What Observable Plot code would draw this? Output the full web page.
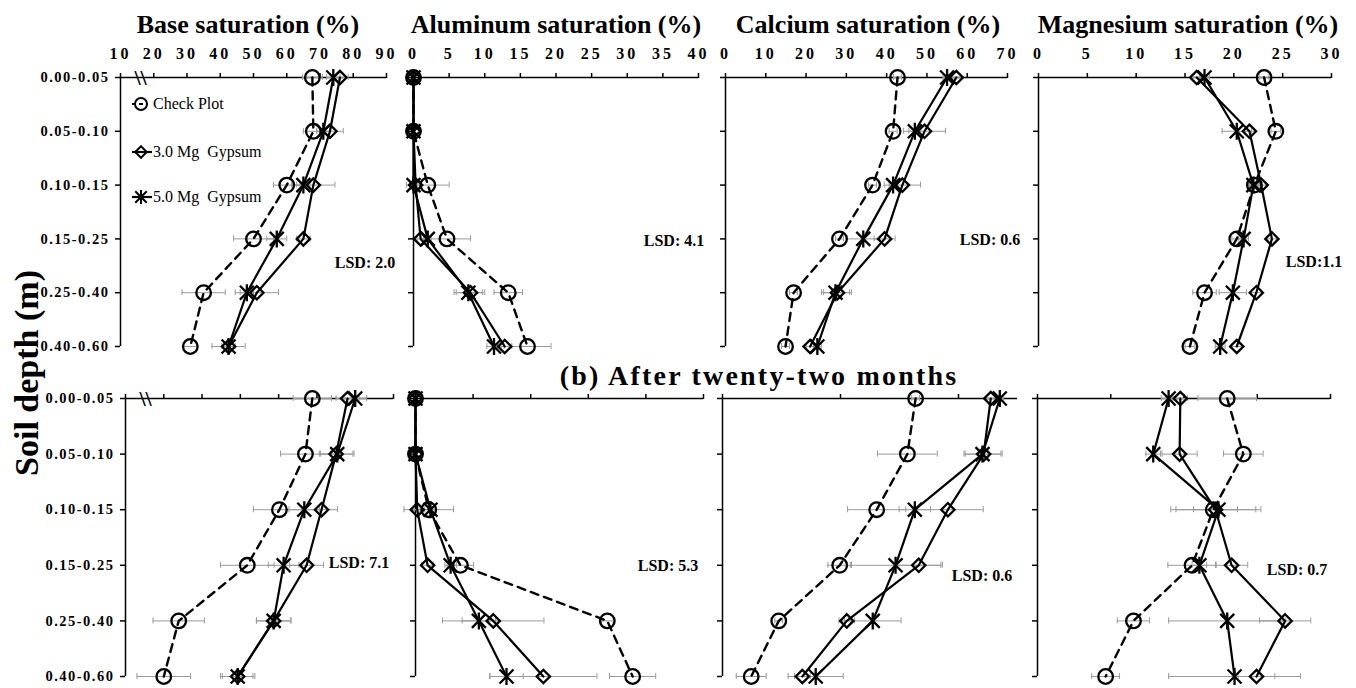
<!DOCTYPE html>
<html><head><meta charset="utf-8">
<script src="https://cdn.jsdelivr.net/npm/d3@7"></script>
<script src="https://cdn.jsdelivr.net/npm/@observablehq/plot@0.6"></script>
<style>
body{margin:0;background:#fff;}
#wrap{position:relative;width:1356px;height:688px;overflow:hidden;font-family:"Liberation Serif","Times New Roman",serif;color:#000;}
.abs{position:absolute;white-space:nowrap;line-height:1;transform:translate(-50%,-50%);}
.title{font-weight:bold;font-size:26px;}
.sub{font-weight:bold;font-size:28px;letter-spacing:2.2px;}
.ylab{font-weight:bold;font-size:34px;transform:translate(-50%,-50%) rotate(-90deg);}
.lsd{font-weight:bold;font-size:16px;}
.leg{position:absolute;display:flex;align-items:center;font-family:"Liberation Serif","Times New Roman",serif;font-size:16px;line-height:1;white-space:nowrap;transform:translateY(-50%);}
.panel{position:absolute;}
.panel g[aria-label="x-axis tick label"] text{letter-spacing:3px;}
.panel g[aria-label="y-axis tick label"] text{letter-spacing:1.5px;}
</style></head><body><div id="wrap"></div>
<script>
const depths = ["0.00-0.05","0.05-0.10","0.10-0.15","0.15-0.25","0.25-0.40","0.40-0.60"];
const treatments = ["Check Plot","3.0 Mg  Gypsum","5.0 Mg  Gypsum"];

// Excel-like star marker: an X plus a vertical stroke
const starSymbol = {
  draw(context, size) {
    const r = Math.sqrt(size / Math.PI), a = r * 0.82;
    context.moveTo(-a, -a); context.lineTo(a, a);
    context.moveTo(-a, a); context.lineTo(a, -a);
    context.moveTo(0, -r); context.lineTo(0, r);
  }
};
const symbols = ["circle", "diamond2", starSymbol];

// (a) first row — values per treatment [check, 3.0 Mg, 5.0 Mg]
const baseA    = [[67.7,68,60,50,35,31],[76,73,68,65,51,42.5],[74,71,65,57,48,42.5]];
const baseAErr = [[3,3,4,6,6.5,2],[2.5,4,6.5,2,6.5,5],[2,2,2,3,2,2]];
const alA      = [[0,0,2,4.7,13.3,16],[0,0,0.3,1,8,12.8],[0,0,0,2,7.7,11.3]];
const alAErr   = [[0,0,3,3.3,2,3.3],[0,0,0.3,0.5,2,1],[0,0,0.3,0.5,2,1]];
const caA      = [[42.7,41.6,36.5,28.3,16.9,14.9],[57.3,49.4,43.9,39.5,27.8,21],[55,47,41.6,34.2,27.3,22.8]];
const caAErr   = [[1,1,1,1,1,1],[1,5.2,4.5,2.6,3.5,1],[1,1.5,1,4,3.5,1]];
const mgA      = [[23.1,24.3,22.1,20.3,17,15.5],[16.2,21.6,22.8,23.9,22.3,20.3],[17,20.3,22,21,19.9,18.6]];
const mgAErr   = [[0.5,0.5,0.5,0.5,1.2,0.5],[0.5,0.5,0.5,0.5,0.5,0.5],[0.5,1.5,0.5,0.5,1.4,0.5]];

// (b) after twenty-two months
const baseB    = [[68.8,67,60.2,51.8,33.9,30],[78,75,71.2,67.3,58.7,49.3],[80,75.3,66.7,61.3,58.7,49.3]];
const baseBErr = [[5,6.5,6.8,7,6.7,7],[3,4.4,4.2,4.4,4.5,4.5],[3,4.4,4,4,4.5,4]];
const alB      = [[0,0,2.3,7.8,33.3,37.7],[0,0,0.3,2.1,13.5,22.2],[0,0,2.6,6.1,11,15.8]];
const alBErr   = [[0,0,4.3,2.3,1,4],[0,0,0.5,1,8.8,9.3],[0,0,1,1,2.9,2.9]];
const caB      = [[49.1,47,39.2,29.8,14.3,7.3],[68.2,66.4,57.3,49.9,31.6,20.3],[70.5,66.1,48.9,44,38.2,23.7]];
const caBErr   = [[1,7.6,7.4,3,1,3.8],[1,4.7,9,6,2,2],[1,4.7,4,11.5,7.2,7]];
const mgB      = [[25.9,28.1,24,21.1,13.1,9.3],[19.5,19.4,24.3,26.5,33.8,29.9],[17.9,15.8,24.7,22.1,25.9,26.9]];
const mgBErr   = [[4,2.7,5.8,3.3,2.2,1.9],[1,2.4,3,2.2,3.5,2.5],[1,1,5.8,1,8,9]];

// axis settings
const xTicksBaseA = [10,20,30,40,50,60,70,80,90];
const xTicksAlA = [0,5,10,15,20,25,30,35,40];
const xTicksCaA = [0,10,20,30,40,50,60,70];
const xTicksMgA = [0,5,10,15,20,25,30];
const xTicksBaseB = [20,30,40,50,60,70,80,90];
const xTicksAlB = [0,10,20,30,40,50];
const xTicksCaB = [0,30,60];
const xTicksMgB = [0,10,20,30,40];

const titles = ["Base saturation (%)","Aluminum saturation (%)","Calcium saturation (%)","Magnesium saturation (%)"];
const lsdA = ["LSD: 2.0","LSD: 4.1","LSD: 0.6","LSD:1.1"];
const lsdB = ["LSD: 7.1","LSD: 5.3","LSD: 0.6","LSD: 0.7"];

const wrap = document.getElementById("wrap");

function toRows(vals, errs) {
  return vals.flatMap((arr, s) => arr.map((v, i) => ({s: treatments[s], si: s, i, v, e: errs[s][i]})));
}

function panel({vals, errs, domain, ticks, left, right, top, bottom, tickLabels, depthLabels, brk}) {
  const ml = depthLabels ? 120 : 22, mr = 22, mt = tickLabels ? 60 : 16, mb = 20;
  const data = toRows(vals, errs);
  const ebars = data.filter(d => d.e > 0);
  const capH = 0.055;
  const marks = [
    Plot.ruleY([0], {stroke: "#000", strokeWidth: 1.5}),
    Plot.ruleX([domain[0]], {y1: 0, y2: depths.length - 1, stroke: "#000", strokeWidth: 1.5}),
    Plot.axisX({anchor: "top", ticks, tickSize: 5, tickPadding: 14, strokeWidth: 1.5,
      tickFormat: tickLabels ? (d => d) : (() => ""), fontSize: 16, fontWeight: "bold", label: null}),
    Plot.axisY({anchor: "left", ticks: d3.range(depths.length), tickSize: 5, tickPadding: 6, strokeWidth: 1.5,
      tickFormat: depthLabels ? (i => depths[i]) : (() => ""), fontSize: 14.5, fontWeight: "bold", label: null}),
    Plot.ruleY(ebars, {y: "i", x1: d => d.v - d.e, x2: d => d.v + d.e, stroke: "#9a9a9a", strokeWidth: 1}),
    Plot.ruleX(ebars, {x: d => d.v - d.e, y1: d => d.i - capH, y2: d => d.i + capH, stroke: "#9a9a9a", strokeWidth: 1}),
    Plot.ruleX(ebars, {x: d => d.v + d.e, y1: d => d.i - capH, y2: d => d.i + capH, stroke: "#9a9a9a", strokeWidth: 1}),
    Plot.line(data.filter(d => d.si === 0), {x: "v", y: "i", stroke: "#000", strokeWidth: 2.4, strokeDasharray: "8,6"}),
    Plot.line(data.filter(d => d.si > 0), {x: "v", y: "i", z: "s", stroke: "#000", strokeWidth: 2.2}),
    Plot.dot(data.filter(d => d.si === 0), {x: "v", y: "i", symbol: "s", r: 7.3, stroke: "#000", strokeWidth: 2.3, fill: "none"}),
    Plot.dot(data.filter(d => d.si === 1), {x: "v", y: "i", symbol: "s", r: 6, stroke: "#000", strokeWidth: 2.3, fill: "none"}),
    Plot.dot(data.filter(d => d.si === 2), {x: "v", y: "i", symbol: "s", r: 8.5, stroke: "#000", strokeWidth: 2.3, fill: "none"})
  ];
  if (brk) marks.push(Plot.text(["\\\\"], {frameAnchor: "top-left", dx: 14, dy: 0, lineAnchor: "middle", fontSize: 22, fontWeight: "bold", fill: "#000", text: d => d}));
  const chart = Plot.plot({
    width: (right - left) + ml + mr,
    height: (bottom - top) + mt + mb,
    marginLeft: ml, marginRight: mr, marginTop: mt, marginBottom: mb,
    x: {domain, label: null},
    y: {domain: [0, depths.length - 1], reverse: true, label: null},
    symbol: {domain: treatments, range: symbols},
    style: {fontFamily: "Liberation Serif, Times New Roman, serif", background: "transparent", overflow: "visible", color: "#000"},
    marks
  });
  chart.classList.add("panel");
  chart.style.left = (left - ml) + "px";
  chart.style.top = (top - mt) + "px";
  chart.style.maxWidth = "none";
  wrap.appendChild(chart);
}

const topY = [77, 346], botY = [398, 676];
const colsA = [[120,386],[413,698],[725,1007],[1038,1331]];
const colsB = [[125,393],[415,703],[722,1017],[1037,1330]];
const setsA = [[baseA, baseAErr, [10,90], xTicksBaseA],[alA, alAErr, [0,40], xTicksAlA],[caA, caAErr, [0,70], xTicksCaA],[mgA, mgAErr, [0,30], xTicksMgA]];
const setsB = [[baseB, baseBErr, [20,90], xTicksBaseB],[alB, alBErr, [0,50], xTicksAlB],[caB, caBErr, [0,75], xTicksCaB],[mgB, mgBErr, [0,40], xTicksMgB]];

setsA.forEach(([vals, errs, domain, ticks], k) => panel({vals, errs, domain, ticks,
  left: colsA[k][0], right: colsA[k][1], top: topY[0], bottom: topY[1], tickLabels: true, depthLabels: k === 0, brk: k === 0}));
setsB.forEach(([vals, errs, domain, ticks], k) => panel({vals, errs, domain, ticks,
  left: colsB[k][0], right: colsB[k][1], top: botY[0], bottom: botY[1], tickLabels: false, depthLabels: k === 0, brk: k === 0}));

function label(text, x, y, cls) {
  const d = document.createElement("div");
  d.className = "abs " + cls;
  d.textContent = text;
  d.style.left = x + "px"; d.style.top = y + "px";
  wrap.appendChild(d);
}
[248, 556, 868, 1188].forEach((x, k) => label(titles[k], x, 25, "title"));
label("(b) After twenty-two months", 759, 376, "sub");
label("Soil depth (m)", 27, 373, "ylab");
[[365,263],[674,241],[990,240],[1314,262]].forEach(([x,y],k) => label(lsdA[k], x, y, "lsd"));
[[359,563],[668,566],[982,576],[1297,570]].forEach(([x,y],k) => label(lsdB[k], x, y, "lsd"));

// legend
const legY = [104, 152, 197];
const symFns = [d3.symbolCircle, d3.symbolDiamond2, starSymbol];
const symR = [6, 5.2, 7];
treatments.forEach((t, k) => {
  const row = document.createElement("div");
  row.className = "leg";
  row.style.left = "131px"; row.style.top = legY[k] + "px";
  const ns = "http://www.w3.org/2000/svg";
  const svg = document.createElementNS(ns, "svg");
  svg.setAttribute("width", 22); svg.setAttribute("height", 18);
  const ln = document.createElementNS(ns, "line");
  ln.setAttribute("x1", 1); ln.setAttribute("x2", k === 0 ? 17 : 21); ln.setAttribute("y1", 9); ln.setAttribute("y2", 9);
  ln.setAttribute("stroke", "#000"); ln.setAttribute("stroke-width", 2.2);
  if (k === 0) ln.setAttribute("stroke-dasharray", "4,3");
  svg.appendChild(ln);
  const p = document.createElementNS(ns, "path");
  p.setAttribute("d", d3.symbol(symFns[k], Math.PI * symR[k] * symR[k])());
  p.setAttribute("transform", "translate(10,9)");
  p.setAttribute("fill", "none"); p.setAttribute("stroke", "#000"); p.setAttribute("stroke-width", 2);
  svg.appendChild(p);
  row.appendChild(svg);
  const tx = document.createElement("span");
  tx.textContent = t; tx.style.whiteSpace = "pre";
  row.appendChild(tx);
  wrap.appendChild(row);
});
</script>
</body></html>
